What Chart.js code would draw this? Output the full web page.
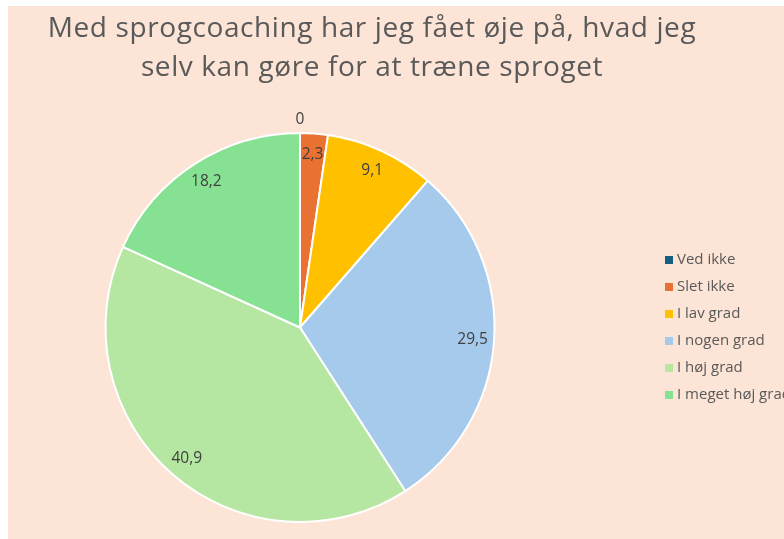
<!DOCTYPE html>
<html>
<head>
<meta charset="utf-8">
<script src="https://cdn.jsdelivr.net/npm/chart.js@4.4.1/dist/chart.umd.min.js"></script>
<style>
  body { margin: 0; background: #ffffff; }
  #wrap { position: absolute; left: 8px; top: 6px; width: 776px; height: 533px; background: #FCE4D6; }
</style>
</head>
<body>
<div id="wrap"><canvas id="pieChart" width="776" height="533"></canvas></div>
<script>
// chart data
var titleLines = ['Med sprogcoaching har jeg fået øje på, hvad jeg', 'selv kan gøre for at træne sproget'];
var categories = ['Ved ikke', 'Slet ikke', 'I lav grad', 'I nogen grad', 'I høj grad', 'I meget høj grad'];
var percentages = [0, 2.3, 9.1, 29.5, 40.9, 18.2];
var sliceColors = ['#156082', '#E97132', '#FFC000', '#A6CAEC', '#B5E6A2', '#86E292'];

var TEXT_GREY = '#595959';
var FONT = '"Open Sans", "DejaVu Sans", Arial, sans-serif';

// title, legend and value labels drawn by hand so they land where the original has them
var extrasPlugin = {
    id: 'extras',
    afterDraw: function (chart) {
        var ctx = chart.ctx;
        ctx.save();

        // title
        ctx.fillStyle = TEXT_GREY;
        ctx.font = '28px ' + FONT;
        ctx.letterSpacing = '0.6px';
        ctx.textAlign = 'center';
        ctx.textBaseline = 'alphabetic';
        ctx.fillText(titleLines[0], 364, 31);
        ctx.fillText(titleLines[1], 364, 69.5);
        ctx.letterSpacing = '0px';

        // value labels (inside the slice, empty slices just outside)
        var meta = chart.getDatasetMeta(0);
        ctx.font = '15.5px ' + FONT;
        ctx.fillStyle = '#404040';
        ctx.textBaseline = 'middle';
        meta.data.forEach(function (arc, i) {
            var p = arc.getProps(['x', 'y', 'startAngle', 'endAngle', 'outerRadius'], true);
            var mid = (p.startAngle + p.endAngle) / 2;
            var r = p.outerRadius * (percentages[i] == 0 ? 1.07 : 0.89);
            var txt = String(percentages[i]).replace('.', ',');
            ctx.fillText(txt, p.x + Math.cos(mid) * r, p.y + Math.sin(mid) * r);
        });

        // legend
        ctx.textAlign = 'left';
        ctx.font = '15px ' + FONT;
        for (var i = 0; i < categories.length; i++) {
            var y = 254 + i * 27;
            ctx.fillStyle = sliceColors[i];
            ctx.fillRect(657, y - 4, 8, 8);
            ctx.fillStyle = TEXT_GREY;
            ctx.fillText(categories[i], 669, y);
        }
        ctx.restore();
    }
};

var ctxPie = document.getElementById('pieChart').getContext('2d');
var pieChart = new Chart(ctxPie, {
    type: 'pie',
    data: {
        labels: categories,
        datasets: [{
            data: percentages,
            backgroundColor: sliceColors,
            borderColor: '#ffffff',
            borderWidth: 2
        }]
    },
    options: {
        responsive: false,
        animation: false,
        layout: {
            padding: { top: 126, bottom: 16, left: 96, right: 288 }
        },
        plugins: {
            legend: { display: false },
            tooltip: { enabled: false },
            title: { display: false }
        }
    },
    plugins: [extrasPlugin]
});
</script>
</body>
</html>
